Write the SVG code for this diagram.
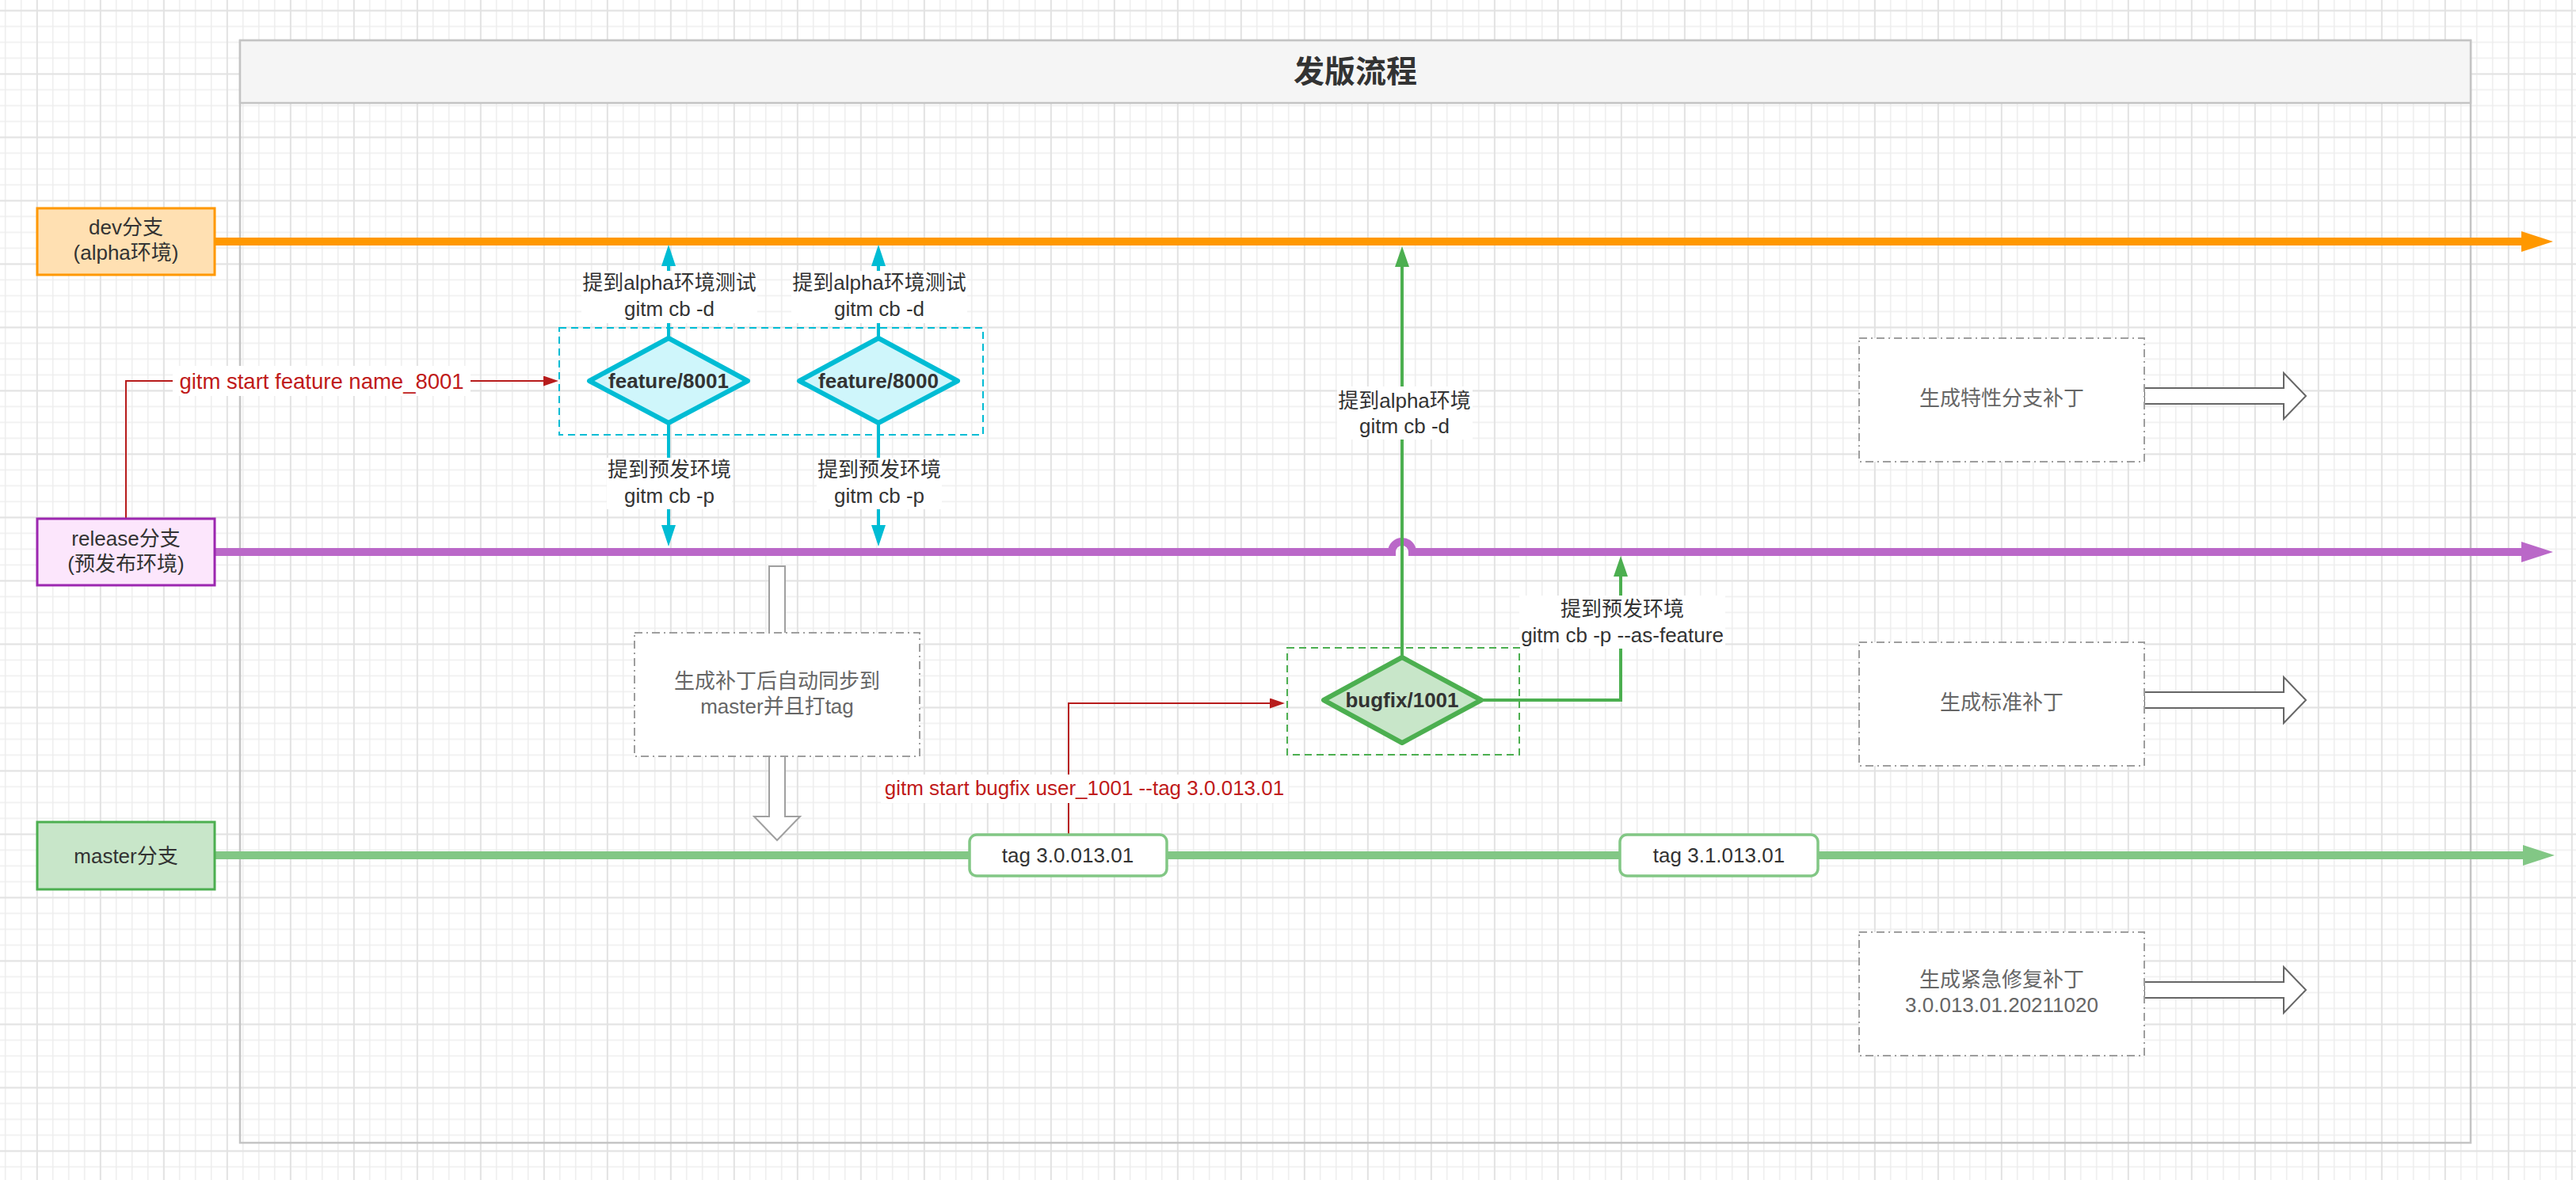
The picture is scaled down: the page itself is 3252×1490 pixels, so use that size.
<svg xmlns="http://www.w3.org/2000/svg" width="3252" height="1490" viewBox="0 0 3252 1490">
<defs>
<style>
.t{font-family:"Liberation Sans","Noto Sans CJK SC",sans-serif;font-size:26px;fill:#333;text-anchor:middle;dominant-baseline:central}
.b{font-weight:bold}
.g{fill:#666}
.r{fill:#c01a1a}
.lbl{fill:#fff}
.gbox{fill:#fff;stroke:#9e9e9e;stroke-width:2;stroke-dasharray:10 5 2 5}
.flat{fill:#fff;stroke:#666;stroke-width:2}
.cy{fill:none;stroke:#00bcd4;stroke-width:4}
.gr{fill:none;stroke:#4caf50;stroke-width:4}
.rd{fill:none;stroke:#b71c1c;stroke-width:2}
.tag{fill:#fff;stroke:#82c785;stroke-width:3.5}
</style>
<pattern id="gMin" width="20" height="20" patternUnits="userSpaceOnUse" x="5.9" y="12.5">
<rect x="0" y="0" width="20" height="1.6" fill="#eeeeee"/>
<rect x="0" y="0" width="1.6" height="20" fill="#eeeeee"/>
</pattern>
<pattern id="gMaj" width="80" height="80" patternUnits="userSpaceOnUse" x="45.9" y="12.5">
<rect x="0" y="0" width="80" height="1.8" fill="#e2e2e2"/>
<rect x="0" y="0" width="1.8" height="80" fill="#e2e2e2"/>
</pattern>
<marker id="aOr" viewBox="0 0 40 26" refX="0" refY="13" markerWidth="40" markerHeight="26" markerUnits="userSpaceOnUse" orient="auto"><path d="M0 0 L40 13 L0 26 Z" fill="#ff9800"/></marker>
<marker id="aPu" viewBox="0 0 40 26" refX="0" refY="13" markerWidth="40" markerHeight="26" markerUnits="userSpaceOnUse" orient="auto"><path d="M0 0 L40 13 L0 26 Z" fill="#ba68c8"/></marker>
<marker id="aLg" viewBox="0 0 40 26" refX="0" refY="13" markerWidth="40" markerHeight="26" markerUnits="userSpaceOnUse" orient="auto"><path d="M0 0 L40 13 L0 26 Z" fill="#82c785"/></marker>
<marker id="aCy" viewBox="0 0 27 18" refX="0" refY="9" markerWidth="27" markerHeight="18" markerUnits="userSpaceOnUse" orient="auto"><path d="M0 0 L27 9 L0 18 Z" fill="#00bcd4"/></marker>
<marker id="aGr" viewBox="0 0 26 18" refX="0" refY="9" markerWidth="26" markerHeight="18" markerUnits="userSpaceOnUse" orient="auto"><path d="M0 0 L26 9 L0 18 Z" fill="#4caf50"/></marker>
<marker id="aRd" viewBox="0 0 19 13" refX="0" refY="6.5" markerWidth="19" markerHeight="13" markerUnits="userSpaceOnUse" orient="auto"><path d="M0 0 L19 6.5 L0 13 Z" fill="#b71c1c"/></marker>
</defs>
<rect x="0" y="0" width="3252" height="1490" fill="#fff"/>
<rect x="0" y="0" width="3252" height="1490" fill="url(#gMin)"/>
<rect x="0" y="0" width="3252" height="1490" fill="url(#gMaj)"/>

<g id="container">
<rect x="303" y="51" width="2816" height="1392" fill="none" stroke="#c4c4c4" stroke-width="2.5"/>
<rect x="303" y="51" width="2816" height="79" fill="#f5f5f5" stroke="#c4c4c4" stroke-width="2.5"/>
<text class="t b" x="1711" y="90" style="font-size:39px">发版流程</text>
</g>

<g id="flow-arrow-sync"><polygon class="flat" style="stroke:#a0a0a0" points="971,715 991,715 991,1031 1010,1031 981,1061 952,1031 971,1031"/></g>
<g id="flow-arrows-right">
<polygon class="flat" points="2707,490 2883,490 2883,471 2911,500 2883,529 2883,510 2707,510"/>
<polygon class="flat" points="2707,874 2883,874 2883,855 2911,884 2883,913 2883,894 2707,894"/>
<polygon class="flat" points="2707,1240 2883,1240 2883,1221 2911,1250 2883,1279 2883,1260 2707,1260"/>
</g>

<g id="connectors">
<path d="M271 305 H3183" fill="none" stroke="#ff9800" stroke-width="10" marker-end="url(#aOr)"/>
<path d="M271 697 H1757 A13 13 0 0 1 1783 697 H3183" fill="none" stroke="#ba68c8" stroke-width="10" marker-end="url(#aPu)"/>
<path d="M271 1080 H3185" fill="none" stroke="#82c785" stroke-width="10" marker-end="url(#aLg)"/>
<path class="cy" d="M844 427 V336" marker-end="url(#aCy)"/>
<path class="cy" d="M844 534 V663" marker-end="url(#aCy)"/>
<path class="cy" d="M1109 427 V336" marker-end="url(#aCy)"/>
<path class="cy" d="M1109 534 V663" marker-end="url(#aCy)"/>
<path class="gr" d="M1770 830 V337" marker-end="url(#aGr)"/>
<path class="gr" d="M1870 884 H2046 V728" marker-end="url(#aGr)"/>
<path class="rd" d="M159 655 V481 H686" marker-end="url(#aRd)"/>
<path class="rd" d="M1349 1053 V888 H1603" marker-end="url(#aRd)"/>
</g>

<g id="labels">
<rect class="lbl" x="734" y="342" width="222" height="66"/>
<text class="t" x="845" y="357">提到alpha环境测试</text>
<text class="t" x="845" y="390">gitm cb -d</text>
<rect class="lbl" x="999" y="342" width="222" height="66"/>
<text class="t" x="1110" y="357">提到alpha环境测试</text>
<text class="t" x="1110" y="390">gitm cb -d</text>
<rect class="lbl" x="766" y="578" width="158" height="65"/>
<text class="t" x="845" y="593">提到预发环境</text>
<text class="t" x="845" y="626">gitm cb -p</text>
<rect class="lbl" x="1031" y="578" width="158" height="65"/>
<text class="t" x="1110" y="593">提到预发环境</text>
<text class="t" x="1110" y="626">gitm cb -p</text>
<rect class="lbl" x="1688" y="488" width="171" height="67"/>
<text class="t" x="1773" y="506">提到alpha环境</text>
<text class="t" x="1773" y="538">gitm cb -d</text>
<rect class="lbl" x="1918" y="752" width="260" height="67"/>
<text class="t" x="2048" y="769">提到预发环境</text>
<text class="t" x="2048" y="802">gitm cb -p --as-feature</text>
<rect class="lbl" x="218" y="462" width="376" height="38"/>
<text class="t r" x="406" y="481" style="font-size:27.5px">gitm start feature name_8001</text>
<rect class="lbl" x="1112" y="978" width="514" height="36"/>
<text class="t r" x="1369" y="995">gitm start bugfix user_1001 --tag 3.0.013.01</text>
</g>

<g id="dev-branch">
<rect x="47" y="263" width="224" height="84" fill="#ffe0b2" stroke="#ff9800" stroke-width="3"/>
<text class="t" x="159" y="287">dev分支</text>
<text class="t" x="159" y="319">(alpha环境)</text>
</g>
<g id="release-branch">
<rect x="47" y="655" width="224" height="84" fill="#fce6fc" stroke="#9c27b0" stroke-width="3"/>
<text class="t" x="159" y="680">release分支</text>
<text class="t" x="159" y="712">(预发布环境)</text>
</g>
<g id="master-branch">
<rect x="47" y="1038" width="224" height="85" fill="#c8e6c9" stroke="#4caf50" stroke-width="3"/>
<text class="t" x="159" y="1081">master分支</text>
</g>

<g id="feature-group">
<rect x="706" y="414" width="535" height="135" fill="none" stroke="#00bcd4" stroke-width="2" stroke-dasharray="9 6"/>
</g>
<g id="feature-8001">
<polygon points="844,427 944,481 844,534 744,481" fill="#cff6fb" stroke="#00bcd4" stroke-width="6" stroke-linejoin="round"/>
<text class="t b" x="844" y="481">feature/8001</text>
</g>
<g id="feature-8000">
<polygon points="1109,427 1209,481 1109,534 1009,481" fill="#cff6fb" stroke="#00bcd4" stroke-width="6" stroke-linejoin="round"/>
<text class="t b" x="1109" y="481">feature/8000</text>
</g>

<g id="bugfix-group">
<rect x="1625" y="818" width="293" height="135" fill="none" stroke="#4caf50" stroke-width="2" stroke-dasharray="9 6"/>
</g>
<g id="bugfix-1001">
<polygon points="1770,830 1870,884 1770,938 1671,884" fill="#c8e6c9" stroke="#4caf50" stroke-width="6" stroke-linejoin="round"/>
<text class="t b" x="1770" y="884">bugfix/1001</text>
</g>

<g id="tag-3-0">
<rect class="tag" x="1224" y="1054" width="249" height="52" rx="9"/>
<text class="t" x="1348" y="1080">tag 3.0.013.01</text>
</g>
<g id="tag-3-1">
<rect class="tag" x="2045" y="1054" width="250" height="52" rx="9"/>
<text class="t" x="2170" y="1080">tag 3.1.013.01</text>
</g>

<g id="sync-box">
<rect class="gbox" x="801" y="799" width="360" height="156"/>
<text class="t g" x="981" y="860">生成补丁后自动同步到</text>
<text class="t g" x="981" y="892">master并且打tag</text>
</g>
<g id="feature-patch">
<rect class="gbox" x="2347" y="427" width="360" height="156"/>
<text class="t g" x="2527" y="503">生成特性分支补丁</text>
</g>
<g id="standard-patch">
<rect class="gbox" x="2347" y="811" width="360" height="156"/>
<text class="t g" x="2527" y="887">生成标准补丁</text>
</g>
<g id="hotfix-patch">
<rect class="gbox" x="2347" y="1177" width="360" height="156"/>
<text class="t g" x="2527" y="1237">生成紧急修复补丁</text>
<text class="t g" x="2527" y="1269">3.0.013.01.20211020</text>
</g>
</svg>
